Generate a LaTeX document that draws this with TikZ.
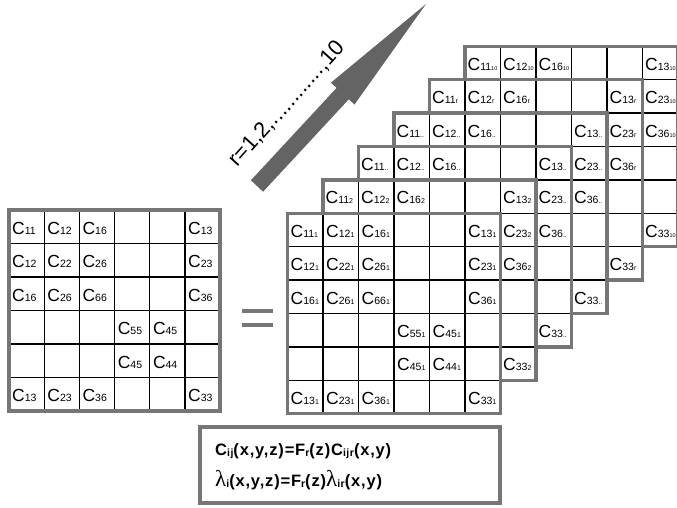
\documentclass[tikz,border=0pt]{standalone}
\usepackage{fontspec}
\setmainfont{Liberation Sans}
\newfontfamily\lamfont{Liberation Serif}
\newfontfamily\formfont[LetterSpace=5]{Liberation Sans}
\definecolor{bgray}{RGB}{118,118,118}
\definecolor{agray}{RGB}{100,100,100}
\newcommand\sbn[1]{{\fontsize{10.5}{10.5}\selectfont #1}}
\newcommand\idn[1]{{\fontsize{7}{7}\selectfont #1}}
\newcommand\fsub[1]{\raisebox{-1.5pt}{\fontsize{10.5}{10.5}\selectfont #1}}
\tikzset{
  lab/.style={anchor=base west, inner sep=0pt, font=\fontsize{17.5}{17.5}\selectfont},
  gridline/.style={black, line width=1.3pt},
  border/.style={bgray, line width=3.5pt},
}
% #1 ox, #2 oy, #3 cw, #4 ch
\newcommand\drawgrid[4]{%
  \fill[white] (#1,#2) rectangle ++(6*#3,6*#4);
  \foreach \i in {1,...,5}{
    \draw[gridline] ({#1+\i*#3},#2) -- ++(0,6*#4);
    \draw[gridline] (#1,{#2+\i*#4}) -- ++(6*#3,0);
  }
  \draw[border] (#1,#2) rectangle ++(6*#3,6*#4);
}
% #1 ox, #2 oy, #3 cw, #4 ch, #5 index, #6 name
\newcommand\fulllabels[6]{%
  \foreach \r/\c/\s in {0/0/11,0/1/12,0/2/16,0/5/13,1/0/12,1/1/22,1/2/26,1/5/23,
      2/0/16,2/1/26,2/2/66,2/5/36,3/3/55,3/4/45,4/3/45,4/4/44,5/0/13,5/1/23,5/2/36,5/5/33}
    \node[lab] (#6-\r-\c) at ({#1+\c*#3+3},{#2+(\r+0.5)*#4+7.3}) {C\sbn{\s}\idn{#5}};
}
\newcommand\backlabels[6]{%
  \foreach \r/\c/\s in {0/0/11,0/1/12,0/2/16,0/5/13,1/5/23,2/5/36,5/5/33}
    \node[lab] (#6-\r-\c) at ({#1+\c*#3+2.5},{#2+(\r+0.5)*#4+7.3}) {C\sbn{\s}\idn{#5}};
}
\begin{document}
\begin{tikzpicture}[x=1pt,y=-1pt]
\useasboundingbox (0,0) rectangle (677,507);
\clip (0,0) rectangle (677,507);

% left matrix
\drawgrid{9}{210}{35.2}{33.5}
\fulllabels{9}{210}{35.2}{33.5}{}{L}

% equals sign
\fill[bgray] (242,309) rectangle (273,313);
\fill[bgray] (242,323) rectangle (273,327);

% stacked layers, back to front
\drawgrid{465.0}{46.3}{35.5}{33.4}
\backlabels{465.0}{46.3}{35.5}{33.4}{\fontsize{5.5}{5.5}\selectfont 10}{M10}
\drawgrid{429.5}{79.7}{35.5}{33.4}
\backlabels{429.5}{79.7}{35.5}{33.4}{r}{Mr}
\drawgrid{394.0}{113.1}{35.5}{33.4}
\backlabels{394.0}{113.1}{35.5}{33.4}{..}{Md}
\drawgrid{358.5}{146.5}{35.5}{33.4}
\backlabels{358.5}{146.5}{35.5}{33.4}{..}{Mc}
\drawgrid{323.0}{179.9}{35.5}{33.4}
\backlabels{323.0}{179.9}{35.5}{33.4}{2}{Mb}
\drawgrid{287.5}{213.3}{35.5}{33.4}
\fulllabels{287.5}{213.3}{35.5}{33.4}{1}{Ma}

% big arrow
\fill[agray] (250.9,180.3) -- (336.6,87.9) -- (330.9,82.7) -- (426,4)
  -- (354.5,104.5) -- (348.8,99.3) -- (263.1,191.7) -- cycle;
\node[rotate=48, inner sep=0pt, font=\fontsize{22}{22}\selectfont] (rlab) at (287,104)
  {r=1,2,............,10};

% formula box
\draw[border, fill=white] (200,427) rectangle (500,503);
\node[anchor=base west, inner sep=0pt] (f1) at (215,455)
  {\formfont\bfseries\fontsize{16.5}{16.5}\selectfont C\fsub{ij}(x,y,z)=F\fsub{r}(z)C\fsub{ijr}(x,y)};
\node[anchor=base west, inner sep=0pt] (f2) at (215,486)
  {\formfont\bfseries\fontsize{16.5}{16.5}\selectfont{\lamfont\mdseries\fontsize{23}{23}\selectfont λ}\fsub{i}(x,y,z)=F\fsub{r}(z){\lamfont\mdseries\fontsize{23}{23}\selectfont λ}\fsub{ir}(x,y)};
\end{tikzpicture}
\end{document}
